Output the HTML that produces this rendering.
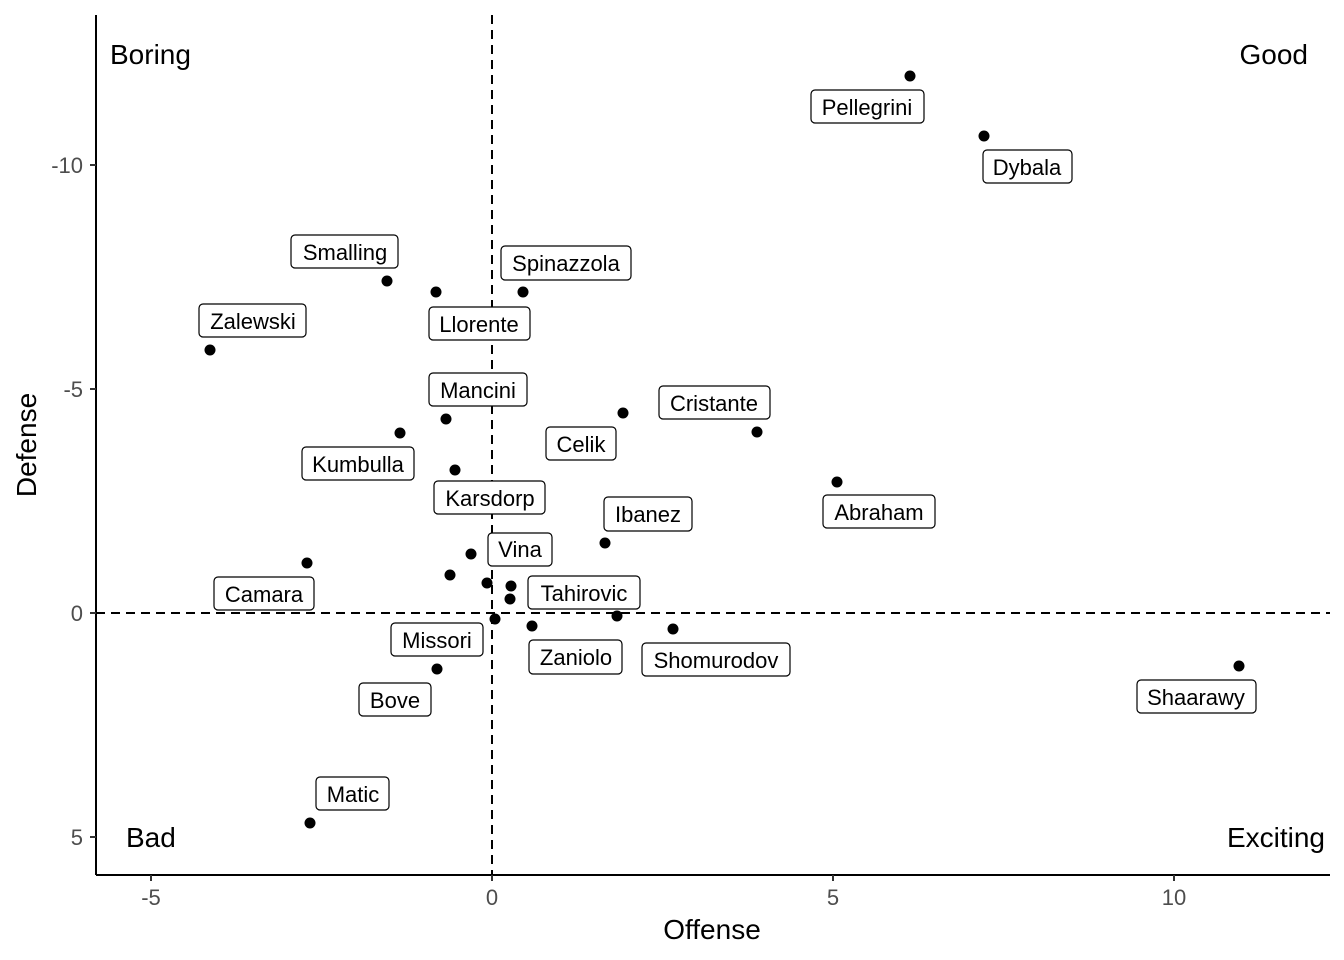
<!DOCTYPE html>
<html><head><meta charset="utf-8"><style>body{margin:0;background:#fff}svg{display:block}text{font-family:"Liberation Sans",Arial,sans-serif}</style></head><body>
<svg width="1344" height="960" viewBox="0 0 1344 960" xmlns="http://www.w3.org/2000/svg">
<rect width="1344" height="960" fill="#fff"/>
<line x1="96" y1="15" x2="96" y2="875" stroke="#000" stroke-width="2"/>
<line x1="96" y1="875" x2="1330" y2="875" stroke="#000" stroke-width="2"/>
<line x1="492" y1="15" x2="492" y2="875" stroke="#000" stroke-width="2" stroke-dasharray="9,6"/>
<line x1="96" y1="613" x2="1330" y2="613" stroke="#000" stroke-width="2" stroke-dasharray="9,6"/>
<g stroke="#333" stroke-width="2">
<line x1="90" y1="165" x2="96" y2="165"/><line x1="90" y1="389" x2="96" y2="389"/><line x1="90" y1="613" x2="96" y2="613"/><line x1="90" y1="837" x2="96" y2="837"/>
<line x1="151" y1="875" x2="151" y2="881"/><line x1="492" y1="875" x2="492" y2="881"/><line x1="833" y1="875" x2="833" y2="881"/><line x1="1174" y1="875" x2="1174" y2="881"/>
</g>
<g fill="#4d4d4d" font-size="22" text-anchor="end">
<text x="83" y="173">-10</text><text x="83" y="397">-5</text><text x="83" y="621">0</text><text x="83" y="845">5</text>
</g>
<g fill="#4d4d4d" font-size="22" text-anchor="middle">
<text x="151" y="905">-5</text><text x="492" y="905">0</text><text x="833" y="905">5</text><text x="1174" y="905">10</text>
</g>
<text x="712" y="939" font-size="28" text-anchor="middle">Offense</text>
<text transform="translate(36,445) rotate(-90)" font-size="28" text-anchor="middle">Defense</text>
<g font-size="28">
<text x="110" y="64">Boring</text><text x="1308" y="64" text-anchor="end">Good</text>
<text x="126" y="847">Bad</text><text x="1325" y="847" text-anchor="end">Exciting</text>
</g>
<g fill="#000">
<circle cx="910" cy="76" r="5.5"/><circle cx="984" cy="136" r="5.5"/><circle cx="387" cy="281" r="5.5"/><circle cx="436" cy="292" r="5.5"/><circle cx="523" cy="292" r="5.5"/><circle cx="210" cy="350" r="5.5"/><circle cx="446" cy="419" r="5.5"/><circle cx="623" cy="413" r="5.5"/><circle cx="757" cy="432" r="5.5"/><circle cx="400" cy="433" r="5.5"/><circle cx="455" cy="470" r="5.5"/><circle cx="837" cy="482" r="5.5"/><circle cx="605" cy="543" r="5.5"/><circle cx="307" cy="563" r="5.5"/><circle cx="471" cy="554" r="5.5"/><circle cx="450" cy="575" r="5.5"/><circle cx="487" cy="583" r="5.5"/><circle cx="511" cy="586" r="5.5"/><circle cx="510" cy="599" r="5.5"/><circle cx="495" cy="619" r="5.5"/><circle cx="617" cy="616" r="5.5"/><circle cx="532" cy="626" r="5.5"/><circle cx="673" cy="629" r="5.5"/><circle cx="437" cy="669" r="5.5"/><circle cx="1239" cy="666" r="5.5"/><circle cx="310" cy="823" r="5.5"/>
</g>
<g fill="#fff" stroke="#000" stroke-width="1.2">
<rect x="811" y="90" width="113" height="33" rx="4"/><rect x="983" y="150" width="89" height="33" rx="4"/><rect x="291" y="235" width="107" height="33" rx="4"/><rect x="501" y="246" width="130" height="34" rx="4"/><rect x="199" y="304" width="107" height="33" rx="4"/><rect x="429" y="307" width="101" height="33" rx="4"/><rect x="429" y="373" width="98" height="33" rx="4"/><rect x="659" y="386" width="111" height="33" rx="4"/><rect x="546" y="427" width="70" height="33" rx="4"/><rect x="302" y="447" width="112" height="33" rx="4"/><rect x="434" y="481" width="111" height="33" rx="4"/><rect x="604" y="497" width="88" height="34" rx="4"/><rect x="823" y="495" width="112" height="33" rx="4"/><rect x="488" y="533" width="64" height="33" rx="4"/><rect x="214" y="577" width="100" height="33" rx="4"/><rect x="528" y="576" width="112" height="33" rx="4"/><rect x="391" y="623" width="92" height="33" rx="4"/><rect x="529" y="640" width="93" height="34" rx="4"/><rect x="642" y="643" width="148" height="33" rx="4"/><rect x="1137" y="680" width="119" height="33" rx="4"/><rect x="359" y="683" width="72" height="33" rx="4"/><rect x="316" y="777" width="73" height="33" rx="4"/>
</g>
<g font-size="22" text-anchor="middle">
<text x="867" y="115">Pellegrini</text><text x="1027" y="175">Dybala</text><text x="345" y="260">Smalling</text><text x="566" y="271">Spinazzola</text><text x="253" y="329">Zalewski</text><text x="479" y="332">Llorente</text><text x="478" y="398">Mancini</text><text x="714" y="411">Cristante</text><text x="581" y="452">Celik</text><text x="358" y="472">Kumbulla</text><text x="490" y="506">Karsdorp</text><text x="648" y="522">Ibanez</text><text x="879" y="520">Abraham</text><text x="520" y="557">Vina</text><text x="264" y="602">Camara</text><text x="584" y="601">Tahirovic</text><text x="437" y="648">Missori</text><text x="576" y="665">Zaniolo</text><text x="716" y="668">Shomurodov</text><text x="1196" y="705">Shaarawy</text><text x="395" y="708">Bove</text><text x="353" y="802">Matic</text>
</g>
</svg>
</body></html>
